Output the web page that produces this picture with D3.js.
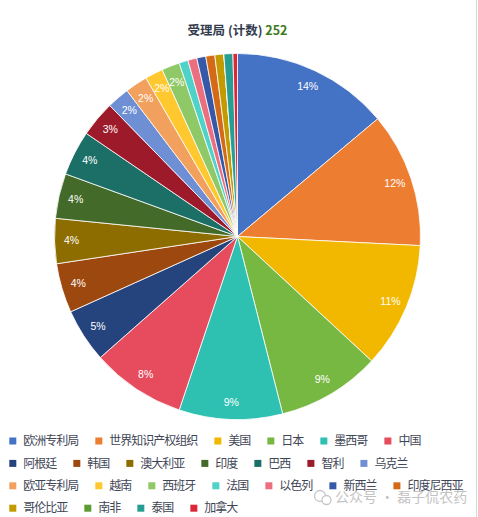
<!DOCTYPE html>
<html><head><meta charset="utf-8">
<script src="https://cdn.jsdelivr.net/npm/d3@7/dist/d3.min.js"></script>
<style>
html,body{margin:0;padding:0;background:#fff;}
svg{display:block;}
</style>
</head><body>
<svg id="chart" width="478" height="517"></svg>
<script>
const categories = ["欧洲专利局","世界知识产权组织","美国","日本","墨西哥","中国","阿根廷","韩国","澳大利亚","印度","巴西","智利","乌克兰","欧亚专利局","越南","西班牙","法国","以色列","新西兰","印度尼西亚","哥伦比亚","南非","泰国","加拿大"];
const counts = [35,30,28,23,23,21,12,11,10,10,10,8,5,5,4,4,2,2,2,2,2,0,2,1];
const colors = ["#4472C4","#ED7D31","#F2B800","#77B843","#2EC0B1","#E64B5E","#25437D","#9D480E","#8E6D00","#436A28","#1C6F67","#9C1A2A","#6F8FD4","#F2A05E","#FFC82E","#8FC866","#4FD3C9","#EB6F7F","#3559A8","#D56A16","#C39A00","#5F9B33","#289E93","#DC2639"];
const titleText = "受理局 (计数)";

const svg = d3.select("#chart");
const total = d3.sum(counts);
const cx = 237.5, cy = 236.5, R = 183;

// title
const title = svg.append("text")
  .attr("x", cx).attr("y", 35)
  .attr("text-anchor", "middle")
  .style("font-family", "'Noto Sans CJK SC', 'Noto Sans', sans-serif")
  .style("font-size", "12.5px").style("font-weight", "bold");
title.append("tspan").attr("fill", "#333c4e").text(titleText + " ");
title.append("tspan").attr("fill", "#3d7a1c").text(total);

const data = categories.map((c, i) => ({name: c, value: counts[i], color: colors[i]}));
const pie = d3.pie().value(d => d.value).sort(null).startAngle(0).endAngle(2 * Math.PI);
const arcs = pie(data);
const arc = d3.arc().innerRadius(0).outerRadius(R);
const labelArc = d3.arc().innerRadius(166).outerRadius(166);

const g = svg.append("g").attr("transform", `translate(${cx},${cy})`);
g.selectAll("path").data(arcs).join("path")
  .attr("d", arc)
  .attr("fill", d => d.data.color)
  .attr("stroke", "#fff")
  .attr("stroke-width", 0.8);

g.selectAll("text.lbl").data(arcs.filter(d => d.data.value / total >= 0.015)).join("text")
  .attr("class", "lbl")
  .attr("transform", d => `translate(${labelArc.centroid(d)})`)
  .attr("text-anchor", "middle").attr("dy", "0.35em")
  .attr("fill", "#fff")
  .style("font-family", "'Liberation Sans', Arial, sans-serif")
  .style("font-size", "10.5px")
  .text(d => Math.round(d.data.value / total * 100) + "%");

// legend (flow layout)
const legend = svg.append("g");
const fontSize = 12, marker = 7, markerGap = 14, itemGap = 17, rowH = 22.4;
const maxX = 478;
let lx = 9.3, ly = 441;
const lfont = "'Noto Sans CJK SC', sans-serif";
const ls = "-1px";
const tmp = svg.append("text").style("font-family", lfont).style("font-size", fontSize + "px").style("letter-spacing", ls);
data.forEach((d, i) => {
  tmp.text(d.name);
  const w = tmp.node().getComputedTextLength();
  if (lx + markerGap + w > maxX) { lx = 9.3; ly += rowH; }
  legend.append("rect").attr("x", lx).attr("y", ly - marker / 2).attr("width", marker).attr("height", marker).attr("fill", d.color);
  legend.append("text").attr("x", lx + markerGap).attr("y", ly).attr("dy", "0.35em")
    .attr("fill", "#3f4656")
    .style("font-family", lfont).style("font-size", fontSize + "px").style("letter-spacing", ls)
    .text(d.name);
  lx += markerGap + w + itemGap;
});
tmp.remove();

// watermark
const wm = svg.append("g").attr("opacity", 0.75);
wm.append("circle").attr("cx", 320).attr("cy", 496).attr("r", 5.5).attr("fill", "none").attr("stroke", "#b5b5b5").attr("stroke-width", 1.3);
wm.append("circle").attr("cx", 326.5).attr("cy", 500).attr("r", 4.5).attr("fill", "#fff").attr("stroke", "#b5b5b5").attr("stroke-width", 1.3);
wm.append("text").attr("x", 335).attr("y", 497).attr("dy", "0.35em")
  .attr("fill", "#b0b0b0")
  .style("font-family", "'Noto Sans CJK SC', sans-serif").style("font-size", "14px")
  .text("公众号 · 磊子侃农药");

// right edge line
svg.append("line").attr("x1", 476.5).attr("x2", 476.5).attr("y1", 0).attr("y2", 517)
  .attr("stroke", "#d9d9d9").attr("stroke-width", 1);
</script>
</body></html>
